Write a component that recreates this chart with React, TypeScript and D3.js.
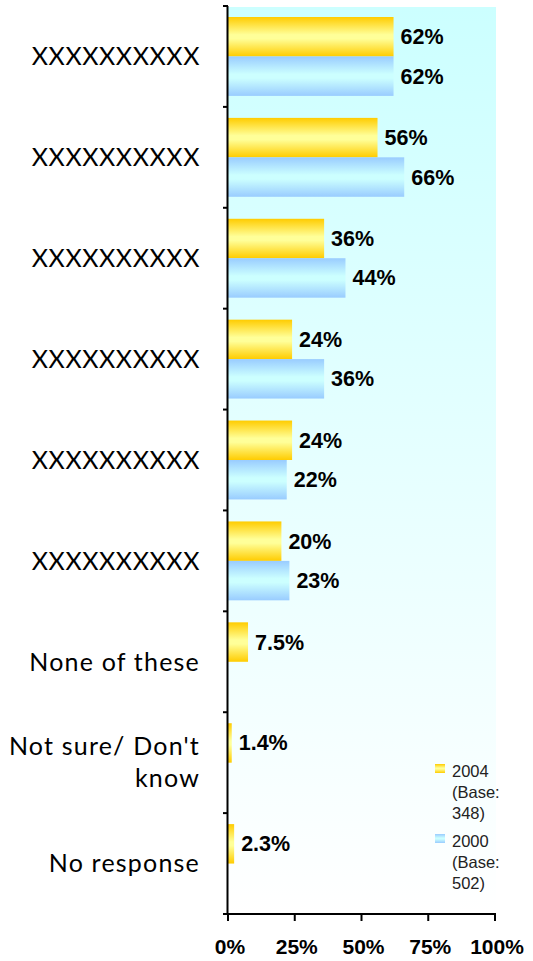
import React from "react";
import * as d3 from "d3";

const categories = [
  "XXXXXXXXXX",
  "XXXXXXXXXX",
  "XXXXXXXXXX",
  "XXXXXXXXXX",
  "XXXXXXXXXX",
  "XXXXXXXXXX",
  "None of these",
  "Not sure/ Don't know",
  "No response",
];
const values2004: (number | null)[] = [62, 56, 36, 24, 24, 20, 7.5, 1.4, 2.3];
const values2000: (number | null)[] = [62, 66, 44, 36, 22, 23, null, null, null];
const labels2004 = ["62%", "56%", "36%", "24%", "24%", "20%", "7.5%", "1.4%", "2.3%"];
const labels2000 = ["62%", "66%", "44%", "36%", "22%", "23%", "", "", ""];
const xTicks = [0, 25, 50, 75, 100];
const seriesNames = ["2004", "2000"];
const legendLines = [
  ["2004", "(Base:", "348)"],
  ["2000", "(Base:", "502)"],
];

const W = 533;
const H = 961;
const left = 228;
const right = 495;
const top = 6;
const bottom = 914;

export default function App() {
  const x = d3.scaleLinear().domain([0, 100]).range([left, right]);
  const y = d3.scaleBand().domain(categories.map((_, i) => String(i))).range([top, bottom]).paddingInner(0).paddingOuter(0);
  const bw = y.bandwidth();
  const pad = 11;
  const barH = (bw - 2 * pad) / 2;
  const bandEdges = d3.range(categories.length + 1).map((i) => top + i * bw);
  const labelFont = "Lato, 'Open Sans', sans-serif";
  const valFont = "Arial, 'Liberation Sans', sans-serif";

  return (
    <svg width={W} height={H} style={{ position: "absolute", left: 0, top: 0 }}>
      <defs>
        <linearGradient id="bg" x1="0" y1="0" x2="0" y2="1">
          <stop offset="0" stopColor="#ccffff" />
          <stop offset="1" stopColor="#ffffff" />
        </linearGradient>
        <linearGradient id="g2004" x1="0" y1="0" x2="0" y2="1">
          <stop offset="0" stopColor="#ffcc00" />
          <stop offset="0.45" stopColor="#ffff99" />
          <stop offset="0.55" stopColor="#ffff99" />
          <stop offset="1" stopColor="#ffcc00" />
        </linearGradient>
        <linearGradient id="g2000" x1="0" y1="0" x2="0" y2="1">
          <stop offset="0" stopColor="#99ccff" />
          <stop offset="0.45" stopColor="#ccffff" />
          <stop offset="0.55" stopColor="#ccffff" />
          <stop offset="1" stopColor="#99ccff" />
        </linearGradient>
      </defs>
      <rect x={0} y={0} width={W} height={H} fill="#ffffff" />
      <rect x={left} y={top + 1} width={x(100) - left + 1} height={bottom - top - 1} fill="url(#bg)" />

      {categories.map((c, i) => {
        const y0 = y(String(i))!;
        const v4 = values2004[i];
        const v0 = values2000[i];
        return (
          <g key={i}>
            {v4 != null && (
              <>
                <rect x={x(0)} y={y0 + pad} width={x(v4) - x(0)} height={barH} fill="url(#g2004)" />
                <text x={x(v4) + 7} y={y0 + pad + barH / 2} dy="0.35em" fontFamily={valFont} fontWeight="bold" fontSize={21.5} fill="#000">
                  {labels2004[i]}
                </text>
              </>
            )}
            {v0 != null && (
              <>
                <rect x={x(0)} y={y0 + pad + barH} width={x(v0) - x(0)} height={barH} fill="url(#g2000)" />
                <text x={x(v0) + 7} y={y0 + pad + barH * 1.5} dy="0.35em" fontFamily={valFont} fontWeight="bold" fontSize={21.5} fill="#000">
                  {labels2000[i]}
                </text>
              </>
            )}
          </g>
        );
      })}

      {/* category labels */}
      {categories.map((c, i) => {
        const cy = y(String(i))! + bw / 2;
        const ls = c.startsWith("XX") ? 0.6 : 1.2;
        if (c === "Not sure/ Don't know") {
          return (
            <text key={i} x={200} textAnchor="end" fontFamily={labelFont} fontSize={25} letterSpacing={ls} fill="#000">
              <tspan x={200} y={cy - 16} dy="0.35em">Not sure/ Don't</tspan>
              <tspan x={200} y={cy + 16} dy="0.35em">know</tspan>
            </text>
          );
        }
        return (
          <text key={i} x={200} y={cy} dy="0.35em" textAnchor="end" fontFamily={labelFont} fontSize={25} letterSpacing={ls} fill="#000">
            {c}
          </text>
        );
      })}

      {/* y axis */}
      <line x1={left - 0.5} x2={left - 0.5} y1={top} y2={bottom} stroke="#000" strokeWidth={2} />
      {bandEdges.map((e, i) => (
        <line key={i} x1={left - 5} x2={left} y1={e} y2={e} stroke="#000" strokeWidth={2} />
      ))}

      {/* x axis */}
      <line x1={left - 1} x2={x(100) + 1} y1={bottom} y2={bottom} stroke="#000" strokeWidth={2} />
      {xTicks.map((t) => (
        <g key={t}>
          <line x1={x(t)} x2={x(t)} y1={bottom} y2={bottom + 7} stroke="#000" strokeWidth={2} />
          <text x={x(t) + 2} y={954} textAnchor="middle" fontFamily={valFont} fontWeight="bold" fontSize={21} fill="#000">
            {t}%
          </text>
        </g>
      ))}

      {/* legend */}
      {seriesNames.map((s, k) => {
        const ly = 771 + k * 70;
        return (
          <g key={s}>
            <rect x={435} y={ly - 7} width={10} height={9} fill={k === 0 ? "url(#g2004)" : "url(#g2000)"} />
            {legendLines[k].map((ln, j) => (
              <text key={j} x={452} y={ly + j * 21} dy="0.35em" fontFamily={valFont} fontSize={16.5} fill="#222">
                {ln}
              </text>
            ))}
          </g>
        );
      })}
    </svg>
  );
}
